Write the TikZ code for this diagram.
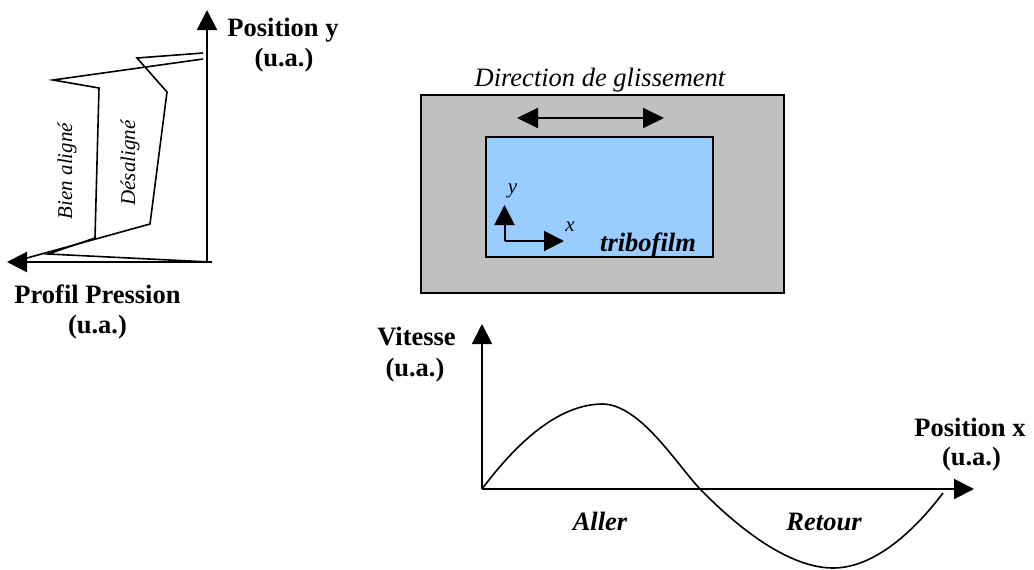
\documentclass[tikz,border=0pt]{standalone}
\usepackage{fontspec}
\setmainfont{Liberation Serif}
\usetikzlibrary{arrows.meta}
\tikzset{
  lbl/.style={font=\fontsize{26.5}{30}\selectfont\bfseries, inner sep=0pt, anchor=base},
  itlbl/.style={font=\fontsize{26.5}{30}\selectfont\itshape, inner sep=0pt, anchor=base},
  bilbl/.style={font=\fontsize{26.5}{30}\selectfont\bfseries\itshape, inner sep=0pt, anchor=base},
  smalllbl/.style={font=\fontsize{21}{24}\selectfont\itshape, inner sep=0pt},
  axisline/.style={line width=2pt, -{Triangle[length=20pt,width=20pt]}},
  curve/.style={line width=1.6pt, line join=miter},
  boxstyle/.style={draw=black, line width=1.6pt, inner sep=0pt},
}
\begin{document}
\begin{tikzpicture}[x=1pt,y=-1pt]
\useasboundingbox (0,0) rectangle (1034,570);

% ---------- Left: pressure profile ----------
\coordinate (O1) at (207,262);
\coordinate (Ytip) at (207,10);
\coordinate (H1) at (212,262);
\coordinate (Xtip) at (7,262);
\draw[curve] (203,53) -- (137,58) -- (167,92) -- (150,224) -- (27,258);
\draw[curve] (203,59) -- (53,80) -- (99,88) -- (95,238) -- (48,254) -- (210,262);
\draw[axisline] (O1) -- (Ytip);
\draw[axisline, line width=2.6pt] (H1) -- (Xtip);
\node[smalllbl, rotate=90] (bien) at (67,171) {Bien aligné};
\node[smalllbl, rotate=90] (desal) at (130,163) {Désaligné};
\node[lbl] (posy) at (283,36) {Position y};
\node[lbl] (posyu) at (284,66) {(u.a.)};
\node[lbl] (prof) at (97.5,303) {Profil Pression};
\node[lbl] (profu) at (97.5,333) {(u.a.)};

% ---------- Right top: tribofilm ----------
\node[boxstyle, fill={rgb,255:red,192;green,192;blue,192}, minimum width=363pt, minimum height=198pt] (gray) at (602.5,194) {};
\node[boxstyle, fill={rgb,255:red,153;green,204;blue,255}, minimum width=227pt, minimum height=120pt] (blue) at (599.5,197) {};
\node[itlbl] (dir) at (600,86) {Direction de glissement};
\coordinate (dL) at (517,118);
\coordinate (dR) at (664,118);
\draw[line width=2pt, {Triangle[length=21pt,width=20pt]}-{Triangle[length=21pt,width=20pt]}] (dL) -- (dR);
\coordinate (o2) at (504.5,241);
\coordinate (y2) at (504.5,205);
\coordinate (x2) at (564,241);
\draw[axisline] (o2) -- (y2);
\draw[axisline] (o2) -- (x2);
\node[smalllbl] (ylab) at (512.5,191) {y};
\node[smalllbl] (xlab) at (570,227) {x};
\node[bilbl] (tribo) at (648,251) {tribofilm};

% ---------- Right bottom: speed ----------
\coordinate (O3) at (482,489);
\coordinate (Vtip) at (482,324);
\coordinate (Ptip) at (974,489);
\coordinate (peak) at (603,404);
\coordinate (cross) at (700,489);
\coordinate (trough) at (833,568);
\coordinate (cend) at (943,493);
\draw[axisline] (O3) -- (Vtip);
\draw[axisline] (O3) -- (Ptip);
\draw[line width=1.6pt] (O3) .. controls (530,425) and (570,404) .. (peak)
  .. controls (640,405) and (675,462) .. (cross)
  .. controls (740,530) and (790,568) .. (trough)
  .. controls (875,568) and (915,530) .. (cend);
\node[lbl] (vit) at (416.5,345) {Vitesse};
\node[lbl] (vitu) at (415,376) {(u.a.)};
\node[lbl] (posx) at (970,436) {Position x};
\node[lbl] (posxu) at (971.5,465) {(u.a.)};
\node[bilbl] (aller) at (600,530) {Aller};
\node[bilbl] (retour) at (824,530) {Retour};
\end{tikzpicture}
\end{document}
